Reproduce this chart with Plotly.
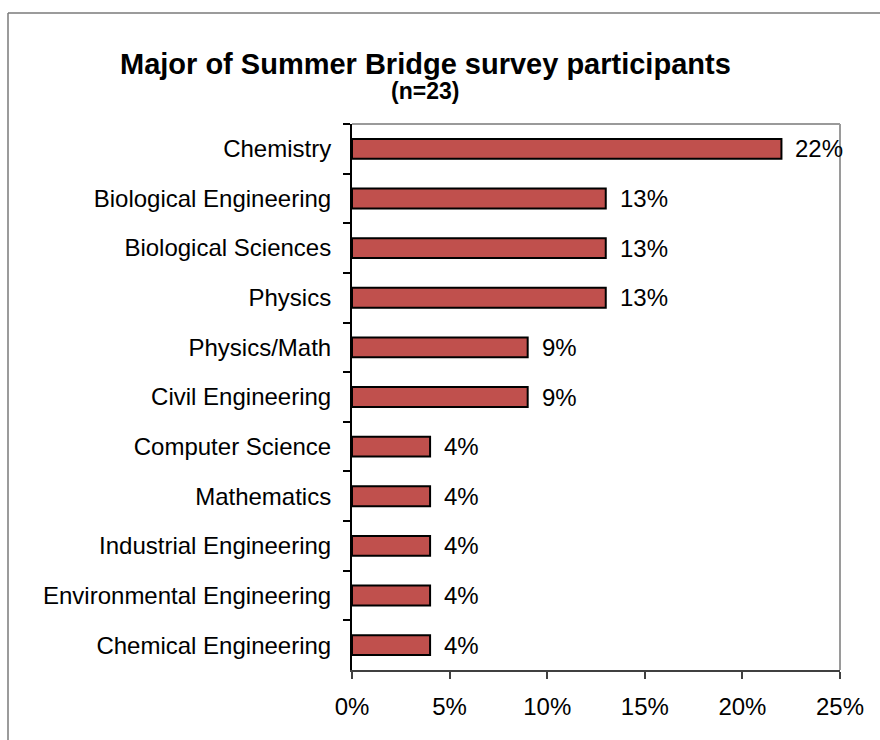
"""
Horizontal bar chart: Major of Summer Bridge survey participants.
"""

import plotly.graph_objects as go

# ---------------------------------------------------------------------------
# Data
# ---------------------------------------------------------------------------

majors = [
    "Chemistry",
    "Biological Engineering",
    "Biological Sciences",
    "Physics",
    "Physics/Math",
    "Civil Engineering",
    "Computer Science",
    "Mathematics",
    "Industrial Engineering",
    "Environmental Engineering",
    "Chemical Engineering",
]
share = [0.22, 0.13, 0.13, 0.13, 0.09, 0.09, 0.04, 0.04, 0.04, 0.04, 0.04]
x_ticks = [0, 0.05, 0.10, 0.15, 0.20, 0.25]
x_labels = ["0%", "5%", "10%", "15%", "20%", "25%"]

_FONT = "Liberation Sans, Arial, sans-serif"
_BAR = "#C0504D"

W, H = 880, 740
ML, MR, MT, MB = 352, 40, 124, 70
PW, PH = W - ML - MR, H - MT - MB


def _px(x):   # page pixel -> paper x
    return (x - ML) / PW


def _py(y):   # page pixel -> paper y
    return (H - MB - y) / PH


fig = go.Figure()

fig.add_trace(go.Bar(
    x=share,
    y=majors,
    orientation="h",
    marker=dict(color=_BAR, line=dict(color="#000000", width=2)),
    hoverinfo="skip",
))

# value labels to the right of each bar
for m, v in zip(majors, share):
    fig.add_annotation(
        x=v, y=m, text=f"{v * 100:.0f}%",
        showarrow=False, xanchor="left", xshift=12,
        font=dict(family=_FONT, size=24, color="#000000"),
    )

# title + subtitle
fig.add_annotation(
    x=_px(425), y=_py(64), xref="paper", yref="paper",
    text="<b>Major of Summer Bridge survey participants</b>",
    showarrow=False, xanchor="center", yanchor="middle",
    font=dict(family=_FONT, size=29, color="#000000"),
)
fig.add_annotation(
    x=_px(425), y=_py(91), xref="paper", yref="paper",
    text="<b>(n=23)</b>",
    showarrow=False, xanchor="center", yanchor="middle",
    font=dict(family=_FONT, size=23, color="#000000"),
)

shapes = [
    # plot-area border (top + right), grey
    dict(type="line", xref="paper", yref="paper", x0=0, x1=1, y0=1, y1=1,
         line=dict(color="#9a9a9a", width=2)),
    dict(type="line", xref="paper", yref="paper", x0=1, x1=1, y0=0, y1=1,
         line=dict(color="#9a9a9a", width=2)),
    # outer chart frame (left + top edges visible)
    dict(type="line", xref="paper", yref="paper",
         x0=_px(8), x1=_px(8), y0=_py(745), y1=_py(13),
         line=dict(color="#7a7a7a", width=1.5)),
    dict(type="line", xref="paper", yref="paper",
         x0=_px(8), x1=_px(885), y0=_py(13), y1=_py(13),
         line=dict(color="#7a7a7a", width=1.5)),
]

fig.update_layout(
    width=W, height=H,
    margin=dict(l=ML, r=MR, t=MT, b=MB),
    paper_bgcolor="#ffffff",
    plot_bgcolor="#ffffff",
    showlegend=False,
    bargap=0.6,
    font=dict(family=_FONT, size=24, color="#000000"),
    shapes=shapes,
    xaxis=dict(
        range=[0, 0.25],
        tickvals=x_ticks, ticktext=x_labels,
        showgrid=False, zeroline=False,
        showline=True, linecolor="#404040", linewidth=2,
        ticks="outside", ticklen=7, tickcolor="#404040", tickwidth=1.5,
        ticklabelstandoff=7,
        tickfont=dict(family=_FONT, size=24, color="#000000"),
        fixedrange=True,
    ),
    yaxis=dict(
        autorange="reversed",
        showgrid=False, zeroline=False,
        showline=True, linecolor="#000000", linewidth=2,
        ticks="outside", ticklen=7, tickcolor="#000000", tickwidth=1.5,
        tickson="boundaries",
        ticklabelstandoff=14,
        tickfont=dict(family=_FONT, size=24, color="#000000"),
        fixedrange=True,
    ),
)

# drop the browser's default 8px body margin so the figure sits at (0, 0)
fig.write_html(
    "out.html",
    config={"displayModeBar": False},
    post_script="document.body.style.margin='0';",
)
